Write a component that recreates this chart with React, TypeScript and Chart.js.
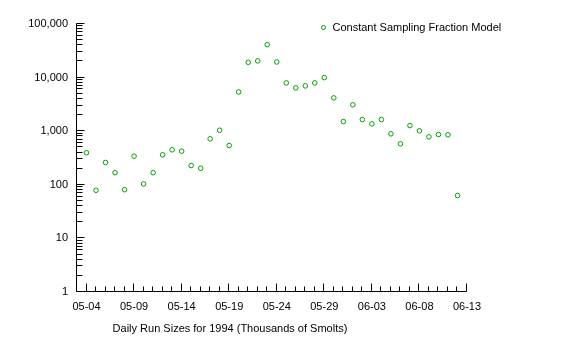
import React, { useEffect, useRef } from 'react';
import { Chart, registerables } from 'chart.js';

Chart.register(...registerables);

const dates = [
  '05-04', '05-05', '05-06', '05-07', '05-08', '05-09', '05-10', '05-11', '05-12', '05-13',
  '05-14', '05-15', '05-16', '05-17', '05-18', '05-19', '05-20', '05-21', '05-22', '05-23',
  '05-24', '05-25', '05-26', '05-27', '05-28', '05-29', '05-30', '05-31', '06-01', '06-02',
  '06-03', '06-04', '06-05', '06-06', '06-07', '06-08', '06-09', '06-10', '06-11', '06-12',
];
const runSizes = [
  395, 79, 261, 168, 81, 342, 104, 168, 363, 450,
  424, 229, 204, 721, 1042, 541, 5400, 19300, 20500, 41100,
  19600, 7960, 6430, 7000, 7960, 10000, 4180, 1513, 3100, 1650,
  1371, 1650, 893, 582, 1274, 1016, 785, 867, 855, 63,
];
const xTickLabels = ['05-04', '05-09', '05-14', '05-19', '05-24', '05-29', '06-03', '06-08', '06-13'];
const yTickLabels = ['1', '10', '100', '1,000', '10,000', '100,000'];
const yMinorSteps = [1, 2, 3, 4, 5, 6, 7, 8, 9];
const seriesName = 'Constant Sampling Fraction Model';
const xTitle = 'Daily Run Sizes for 1994 (Thousands of Smolts)';

const GREEN = '#00a000';
const FONT = '"Liberation Sans", Arial, sans-serif';
const LABEL_STEP = 5;

const axesPlugin = {
  id: 'customAxes',
  afterDraw(chart: any) {
    const { ctx, chartArea: a, scales } = chart;
    const xs = scales.x;
    const ys = scales.y;
    ctx.save();
    ctx.strokeStyle = '#000';
    ctx.lineWidth = 1;
    const left = Math.round(a.left) - 0.5;
    const bottom = Math.round(a.bottom) - 0.5;
    const top = Math.round(a.top) - 0.5;
    const right = Math.round(a.right) - 0.5;
    ctx.beginPath();
    ctx.moveTo(left, top);
    ctx.lineTo(left, bottom);
    ctx.lineTo(right, bottom);
    ctx.stroke();

    // y ticks (inside)
    ctx.beginPath();
    ys.ticks.forEach((t: any) => {
      const py = Math.round(ys.getPixelForValue(t.value)) - 0.5;
      const major = Math.abs(Math.log10(t.value) - Math.round(Math.log10(t.value))) < 1e-9;
      const len = major ? 8 : 6;
      ctx.moveTo(left, py);
      ctx.lineTo(left + len, py);
    });
    ctx.stroke();

    // x ticks (inside)
    ctx.beginPath();
    xs.ticks.forEach((t: any) => {
      const px = Math.round(xs.getPixelForValue(t.value)) - 0.5;
      const major = t.value >= 0 && t.value % LABEL_STEP === 0;
      const len = major ? 8 : 5;
      ctx.moveTo(px, bottom);
      ctx.lineTo(px, bottom - len);
    });
    ctx.stroke();

    // x title
    ctx.fillStyle = '#000';
    ctx.font = `11px ${FONT}`;
    ctx.textAlign = 'center';
    ctx.textBaseline = 'middle';
    ctx.fillText(xTitle, a.left + 153, a.bottom + 37);

    // legend
    const ds = chart.data.datasets[0];
    const lx = a.left + 246.5;
    const ly = a.top + 3.5;
    ctx.strokeStyle = ds.borderColor;
    ctx.beginPath();
    ctx.arc(lx, ly, 2, 0, Math.PI * 2);
    ctx.stroke();
    ctx.fillStyle = '#000';
    ctx.textAlign = 'left';
    ctx.fillText(ds.label, lx + 9, ly + 0.5);
    ctx.restore();
  },
};

export default function App() {
  const ref = useRef<HTMLCanvasElement | null>(null);

  useEffect(() => {
    if (!ref.current) return;
    const yTicks: number[] = [];
    for (let d = 0; d < yTickLabels.length; d++) {
      for (const m of yMinorSteps) {
        const v = m * Math.pow(10, d);
        if (d === yTickLabels.length - 1 && m > 1) break;
        yTicks.push(v);
      }
    }
    const chart = new Chart(ref.current, {
      type: 'scatter',
      data: {
        datasets: [
          {
            label: seriesName,
            data: runSizes.map((v, i) => ({ x: i, y: v })),
            borderColor: GREEN,
            backgroundColor: 'rgba(0,0,0,0)',
            borderWidth: 1,
            pointRadius: 2.3,
            pointStyle: 'circle',
            showLine: false,
          },
        ],
      },
      options: {
        animation: false,
        responsive: false,
        devicePixelRatio: 1,
        layout: { padding: { left: 0, right: 105, top: 24, bottom: 0 } },
        plugins: {
          legend: { display: false },
          tooltip: { enabled: false },
          title: { display: false },
        },
        scales: {
          x: {
            type: 'linear',
            min: -1,
            max: dates.length,
            grid: { display: false, drawTicks: false },
            border: { display: false },
            afterFit: (s: any) => {
              s.height = 63;
            },
            afterBuildTicks: (s: any) => {
              const t = [];
              for (let v = -1; v <= dates.length; v++) t.push({ value: v });
              s.ticks = t;
            },
            ticks: {
              autoSkip: false,
              maxRotation: 0,
              padding: 8,
              color: '#000',
              font: { family: FONT, size: 11 },
              callback: (v: any) => {
                const n = Number(v);
                if (n >= 0 && n % LABEL_STEP === 0) return xTickLabels[n / LABEL_STEP] ?? '';
                return '';
              },
            },
          },
          y: {
            type: 'logarithmic',
            min: 1,
            max: Math.pow(10, yTickLabels.length - 1),
            grid: { display: false, drawTicks: false },
            border: { display: false },
            afterFit: (s: any) => {
              s.width = 77;
            },
            afterBuildTicks: (s: any) => {
              s.ticks = yTicks.map((v) => ({ value: v }));
            },
            ticks: {
              autoSkip: false,
              padding: 9,
              color: '#000',
              font: { family: FONT, size: 11 },
              callback: (v: any) => {
                const lg = Math.log10(Number(v));
                if (Math.abs(lg - Math.round(lg)) < 1e-9) return yTickLabels[Math.round(lg)] ?? '';
                return '';
              },
            },
          },
        },
      },
      plugins: [axesPlugin],
    });
    return () => chart.destroy();
  }, []);

  return (
    <div style={{ position: 'fixed', left: 0, top: 0, width: 572, height: 355, background: '#fff' }}>
      <canvas ref={ref} width={572} height={355} />
    </div>
  );
}
